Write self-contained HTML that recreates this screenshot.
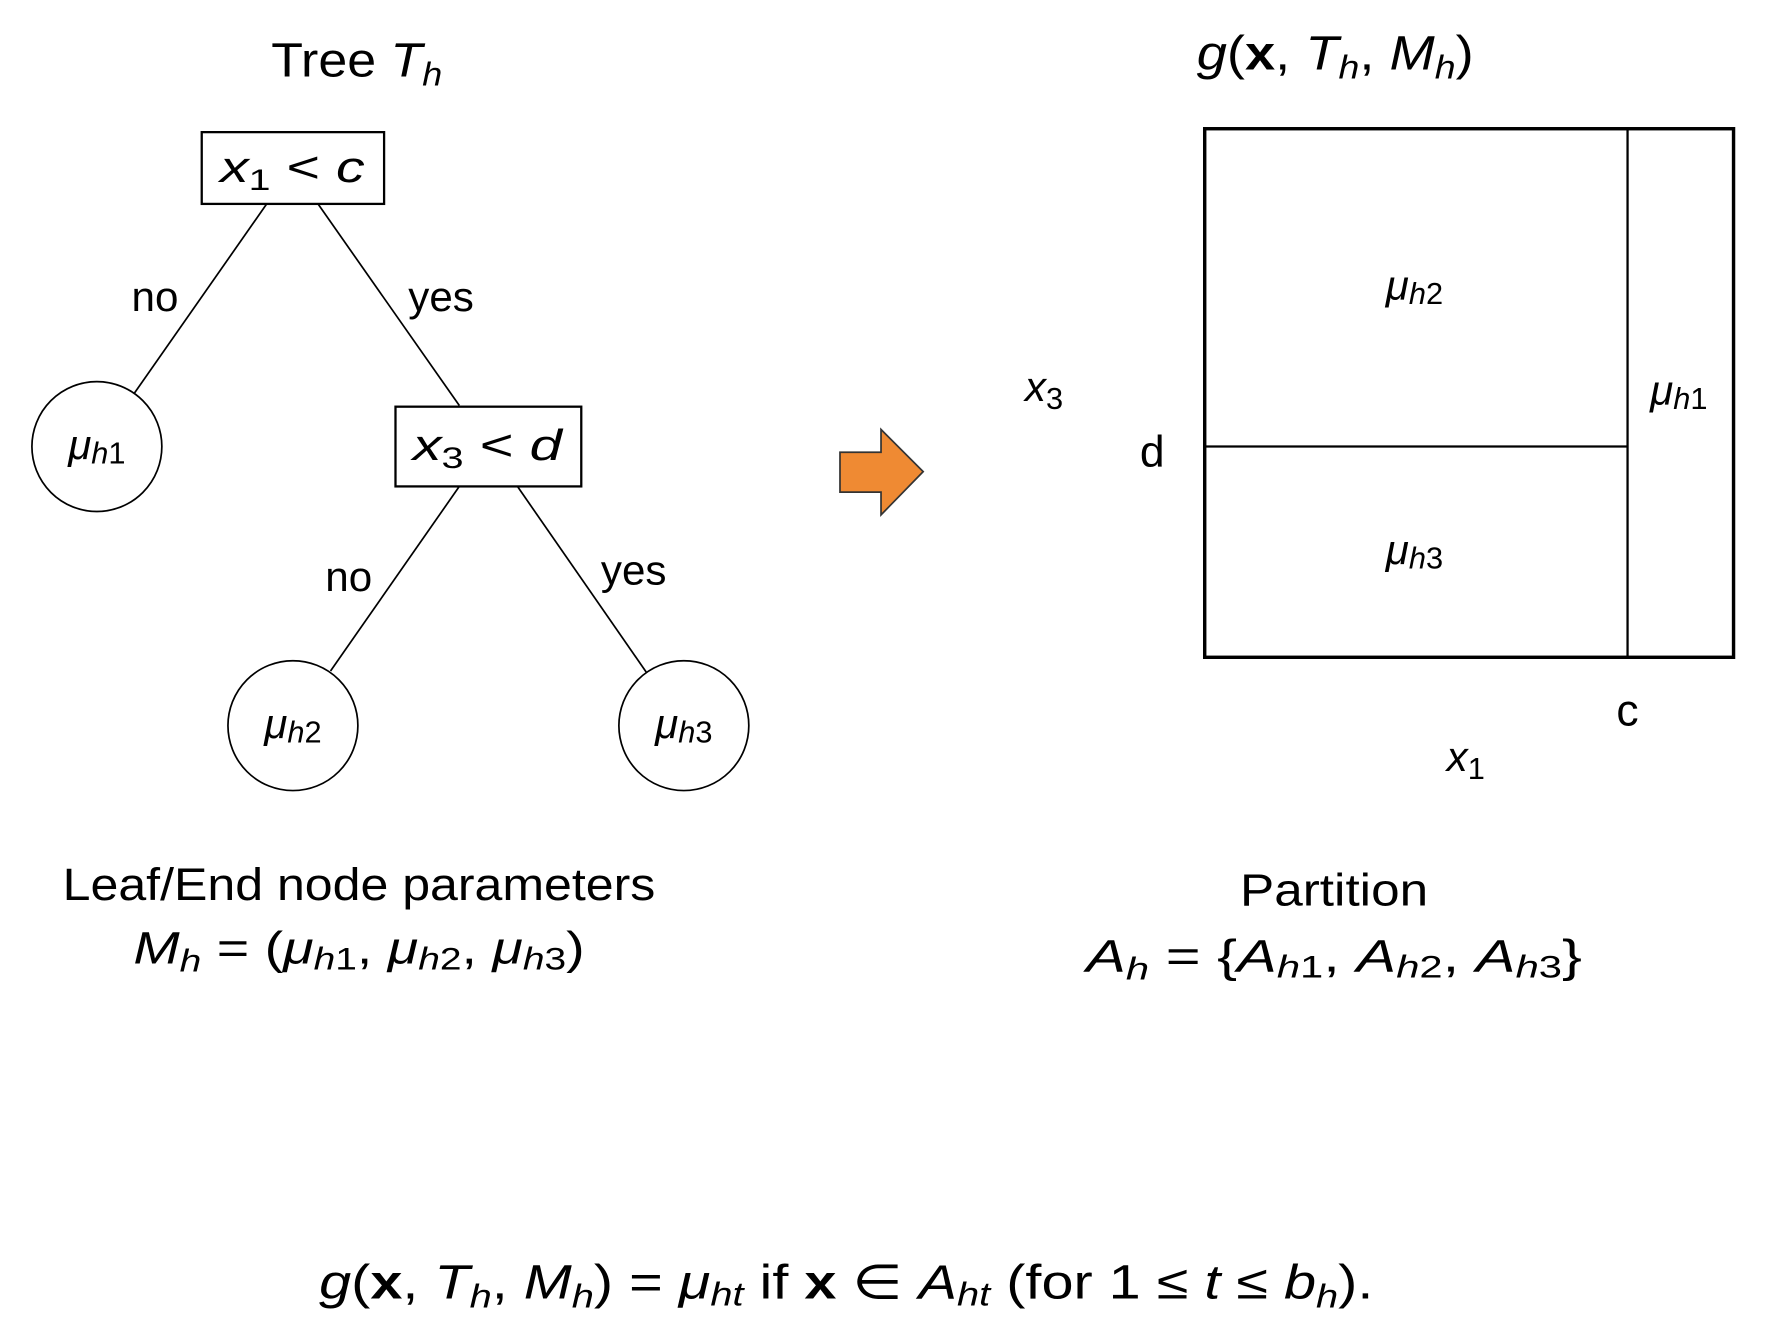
<!DOCTYPE html>
<html><head><meta charset="utf-8"><style>
html,body{margin:0;padding:0;background:#fff;}
svg{display:block;}
text{font-family:"Liberation Sans","DejaVu Sans",sans-serif;fill:#000;}
.i{font-style:italic;}
</style></head><body>
<svg width="1778" height="1318" viewBox="0 0 1560 1157" preserveAspectRatio="none">
<g>
<text x="238" y="67" font-size="42" textLength="150" lengthAdjust="spacingAndGlyphs">Tree <tspan class="i">T</tspan><tspan class="i" font-size="29" dy="8">h</tspan></text>
<rect x="177" y="116" width="160" height="63" fill="none" stroke="#000" stroke-width="2"/>
<text x="193" y="160" font-size="38" textLength="127" lengthAdjust="spacingAndGlyphs"><tspan class="i">x</tspan><tspan font-size="26" dy="7">1</tspan><tspan dy="-7"> &lt; </tspan><tspan class="i">c</tspan></text>
<line x1="234" y1="179" x2="118" y2="345" stroke="#000" stroke-width="1.5"/>
<line x1="279" y1="179" x2="403" y2="356" stroke="#000" stroke-width="1.5"/>
<text x="136" y="273" font-size="37" text-anchor="middle">no</text>
<text x="387" y="273" font-size="37" text-anchor="middle">yes</text>
<circle cx="85" cy="392" r="57" fill="none" stroke="#000" stroke-width="1.5"/>
<text x="85" y="403" font-size="37" text-anchor="middle"><tspan class="i">μ</tspan><tspan class="i" font-size="27" dy="4">h</tspan><tspan font-size="27">1</tspan></text>
<rect x="347" y="357" width="163" height="70" fill="none" stroke="#000" stroke-width="2"/>
<text x="362" y="404" font-size="38" textLength="131" lengthAdjust="spacingAndGlyphs"><tspan class="i">x</tspan><tspan font-size="26" dy="7">3</tspan><tspan dy="-7"> &lt; </tspan><tspan class="i">d</tspan></text>
<line x1="403" y1="427" x2="290" y2="589" stroke="#000" stroke-width="1.5"/>
<line x1="454" y1="427" x2="567" y2="590" stroke="#000" stroke-width="1.5"/>
<text x="306" y="519" font-size="37" text-anchor="middle">no</text>
<text x="556" y="513" font-size="37" text-anchor="middle">yes</text>
<circle cx="257" cy="637" r="57" fill="none" stroke="#000" stroke-width="1.5"/>
<text x="257" y="648" font-size="37" text-anchor="middle"><tspan class="i">μ</tspan><tspan class="i" font-size="27" dy="4">h</tspan><tspan font-size="27">2</tspan></text>
<circle cx="600" cy="637" r="57" fill="none" stroke="#000" stroke-width="1.5"/>
<text x="600" y="648" font-size="37" text-anchor="middle"><tspan class="i">μ</tspan><tspan class="i" font-size="27" dy="4">h</tspan><tspan font-size="27">3</tspan></text>
<text x="55" y="790" font-size="40" textLength="520" lengthAdjust="spacingAndGlyphs">Leaf/End node parameters</text>
<text x="117" y="846" font-size="40" textLength="396" lengthAdjust="spacingAndGlyphs"><tspan class="i">M</tspan><tspan class="i" font-size="28" dy="7">h</tspan><tspan dy="-7"> = (</tspan><tspan class="i">μ</tspan><tspan class="i" font-size="28" dy="5">h</tspan><tspan font-size="28">1</tspan><tspan dy="-5">, </tspan><tspan class="i">μ</tspan><tspan class="i" font-size="28" dy="5">h</tspan><tspan font-size="28">2</tspan><tspan dy="-5">, </tspan><tspan class="i">μ</tspan><tspan class="i" font-size="28" dy="5">h</tspan><tspan font-size="28">3</tspan><tspan dy="-5">)</tspan></text>
</g>
<polygon points="737,397 773,397 773,377 810,414 773,452 773,432 737,432" fill="#ef8a33" stroke="#333" stroke-width="1.5"/>
<g>
<text x="1050" y="61" font-size="42" textLength="243" lengthAdjust="spacingAndGlyphs"><tspan class="i">g</tspan>(<tspan font-weight="bold">x</tspan>, <tspan class="i">T</tspan><tspan class="i" font-size="29" dy="8">h</tspan><tspan dy="-8">, </tspan><tspan class="i">M</tspan><tspan class="i" font-size="29" dy="8">h</tspan><tspan dy="-8">)</tspan></text>
<rect x="1057" y="113" width="464" height="464" fill="none" stroke="#000" stroke-width="3"/>
<line x1="1428" y1="113" x2="1428" y2="577" stroke="#000" stroke-width="2"/>
<line x1="1057" y1="392" x2="1428" y2="392" stroke="#000" stroke-width="2"/>
<text x="1241" y="263" font-size="37" text-anchor="middle"><tspan class="i">μ</tspan><tspan class="i" font-size="27" dy="4">h</tspan><tspan font-size="27">2</tspan></text>
<text x="1241" y="495" font-size="37" text-anchor="middle"><tspan class="i">μ</tspan><tspan class="i" font-size="27" dy="4">h</tspan><tspan font-size="27">3</tspan></text>
<text x="1473" y="355" font-size="37" text-anchor="middle"><tspan class="i">μ</tspan><tspan class="i" font-size="27" dy="4">h</tspan><tspan font-size="27">1</tspan></text>
<text x="916" y="352" font-size="37" text-anchor="middle"><tspan class="i">x</tspan><tspan font-size="27" dy="7">3</tspan></text>
<text x="1011" y="410" font-size="39" text-anchor="middle">d</text>
<text x="1428" y="637" font-size="39" text-anchor="middle">c</text>
<text x="1286" y="677" font-size="37" text-anchor="middle"><tspan class="i">x</tspan><tspan font-size="27" dy="7">1</tspan></text>
<text x="1088" y="795" font-size="40" textLength="165" lengthAdjust="spacingAndGlyphs">Partition</text>
<text x="953" y="853" font-size="40" textLength="435" lengthAdjust="spacingAndGlyphs"><tspan class="i">A</tspan><tspan class="i" font-size="28" dy="7">h</tspan><tspan dy="-7"> = {</tspan><tspan class="i">A</tspan><tspan class="i" font-size="28" dy="5">h</tspan><tspan font-size="28">1</tspan><tspan dy="-5">, </tspan><tspan class="i">A</tspan><tspan class="i" font-size="28" dy="5">h</tspan><tspan font-size="28">2</tspan><tspan dy="-5">, </tspan><tspan class="i">A</tspan><tspan class="i" font-size="28" dy="5">h</tspan><tspan font-size="28">3</tspan><tspan dy="-5">}</tspan></text>
</g>
<text x="280" y="1140" font-size="42" textLength="925" lengthAdjust="spacingAndGlyphs"><tspan class="i">g</tspan>(<tspan font-weight="bold">x</tspan>, <tspan class="i">T</tspan><tspan class="i" font-size="29" dy="8">h</tspan><tspan dy="-8">, </tspan><tspan class="i">M</tspan><tspan class="i" font-size="29" dy="8">h</tspan><tspan dy="-8">) = </tspan><tspan class="i">μ</tspan><tspan class="i" font-size="29" dy="6">ht</tspan><tspan dy="-6"> if </tspan><tspan font-weight="bold">x</tspan> ∈ <tspan class="i">A</tspan><tspan class="i" font-size="29" dy="6">ht</tspan><tspan dy="-6"> (for 1 ≤ </tspan><tspan class="i">t</tspan> ≤ <tspan class="i">b</tspan><tspan class="i" font-size="29" dy="8">h</tspan><tspan dy="-8">).</tspan></text>
</svg>
</body></html>
